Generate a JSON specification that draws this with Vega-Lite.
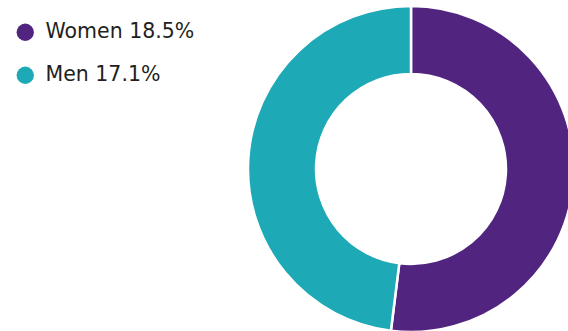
{
  "$schema": "https://vega.github.io/schema/vega-lite/v6.json",
  "autosize": {"type": "none"},
  "padding": {"left": 248, "top": 6, "right": 0, "bottom": 0},
  "width": 326,
  "height": 326,
  "background": "white",
  "config": {"view": {"stroke": null}},
  "data": {
    "values": [
      {"group": "Women", "label": "Women 18.5%", "value": 18.5},
      {"group": "Men", "label": "Men 17.1%", "value": 17.1}
    ]
  },
  "mark": {"type": "arc", "innerRadius": 95, "outerRadius": 163, "stroke": "white", "strokeWidth": 2.5},
  "encoding": {
    "theta": {"field": "value", "type": "quantitative", "stack": true},
    "order": {"field": "group", "sort": "descending"},
    "color": {
      "field": "label",
      "type": "nominal",
      "scale": {"domain": ["Women 18.5%", "Men 17.1%"], "range": ["#512480", "#1da9b6"]},
      "legend": {
        "title": null,
        "orient": "none",
        "legendX": -233,
        "legendY": 16,
        "symbolType": "circle",
        "symbolSize": 300,
        "symbolStrokeWidth": 0,
        "labelFont": "DejaVu Sans",
        "labelFontSize": 20.5,
        "labelColor": "#231f20",
        "labelOffset": 10,
        "rowPadding": 22,
        "labelLimit": 300
      }
    }
  }
}
